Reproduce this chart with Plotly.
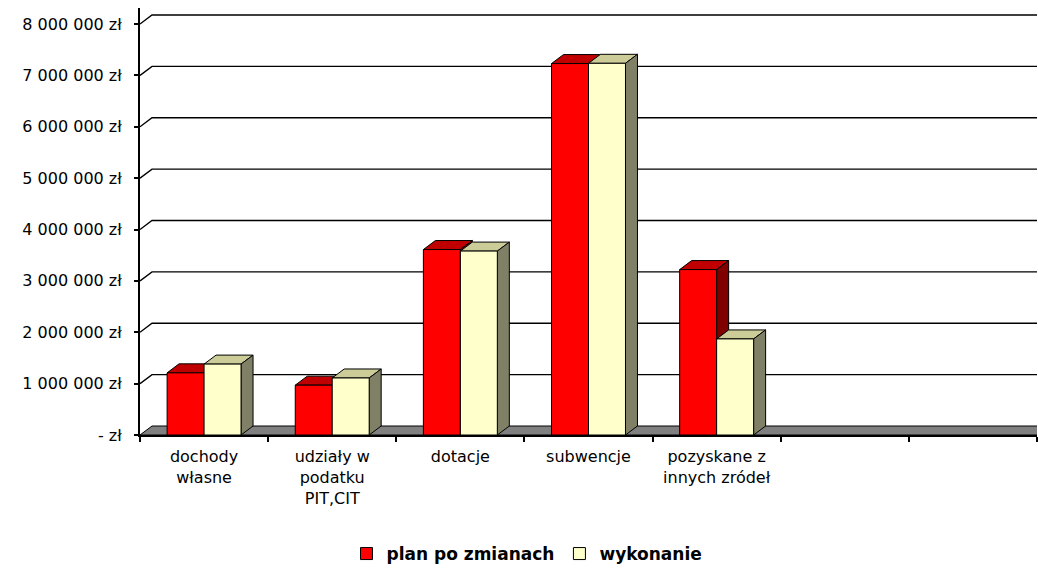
import plotly.graph_objects as go

# ---------------- data ----------------
categories = ["dochody<br>własne", "udziały w<br>podatku<br>PIT,CIT", "dotacje",
              "subwencje", "pozyskane z<br>innych zródeł", "", ""]
plan_po_zmianach = [1210000, 970000, 3610000, 7230000, 3220000]
wykonanie = [1380000, 1110000, 3580000, 7235000, 1870000]
y_ticks = [0, 1000000, 2000000, 3000000, 4000000, 5000000, 6000000, 7000000, 8000000]
y_tick_labels = ["- zł", "1 000 000 zł", "2 000 000 zł", "3 000 000 zł", "4 000 000 zł",
                 "5 000 000 zł", "6 000 000 zł", "7 000 000 zł", "8 000 000 zł"]
series_names = ["plan po zmianach", "wykonanie"]

# ---------------- styling / geometry ----------------
W, H = 1038, 572
ML, MR, MT, MB = 140, 1, 8, 137
BARGAP = 0.423
n_cat = len(categories)
x_range = [-0.5, n_cat - 0.5]
plot_w = W - ML - MR
plot_h = H - MT - MB
px_per_cat = plot_w / n_cat
px_per_val = 411.0 / 8000000          # front scale (0 -> 8 000 000)
y_max = plot_h / px_per_val
DEPTH_X_PX, DEPTH_Y_PX = 12, 9
dx = DEPTH_X_PX / px_per_cat
dy = DEPTH_Y_PX / px_per_val
bw = (1 - BARGAP) / 2

front_cols = ["#FF0000", "#FFFFCC"]
top_cols = ["#C00000", "#CCCC99"]
side_cols = ["#800000", "#808066"]

xs = list(range(len(plan_po_zmianach)))

fig = go.Figure()
for k, (name, vals) in enumerate(zip(series_names, [plan_po_zmianach, wykonanie])):
    fig.add_trace(go.Bar(
        x=xs, y=vals, name=name,
        marker=dict(color=front_cols[k], line=dict(color="black", width=1)),
        hoverinfo="skip",
    ))

shapes = []
# side-wall + back-wall gridlines
for v in y_ticks[1:]:
    shapes.append(dict(
        type="path", xref="x", yref="y", layer="below",
        path=f"M {x_range[0]},{v} L {x_range[0]+dx},{v+dy} L {x_range[1]+1},{v+dy}",
        line=dict(color="black", width=1.4),
    ))
# floor
shapes.append(dict(
    type="path", xref="x", yref="y", layer="below",
    path=f"M {x_range[0]},0 L {x_range[0]+dx},{dy} L {x_range[1]+1},{dy} L {x_range[1]+1},0 Z",
    fillcolor="#808080", line=dict(color="black", width=1),
))
# 3D tops and sides of the columns
for k, vals in enumerate([plan_po_zmianach, wykonanie]):
    for i, v in zip(xs, vals):
        x0 = i - bw + k * bw
        x1 = x0 + bw
        shapes.append(dict(
            type="path", xref="x", yref="y", layer="below",
            path=f"M {x0},{v} L {x1},{v} L {x1+dx},{v+dy} L {x0+dx},{v+dy} Z",
            fillcolor=top_cols[k], line=dict(color="black", width=1),
        ))
        shapes.append(dict(
            type="path", xref="x", yref="y", layer="below",
            path=f"M {x1},0 L {x1+dx},{dy} L {x1+dx},{v+dy} L {x1},{v} Z",
            fillcolor=side_cols[k], line=dict(color="black", width=1),
        ))

tick_font = dict(family="DejaVu Sans", size=16, color="black")

legend_y_px = 554
legend_cx_px = 527

fig.update_layout(
    width=W, height=H,
    margin=dict(l=ML, r=MR, t=MT, b=MB, autoexpand=False),
    paper_bgcolor="white", plot_bgcolor="white",
    barmode="group", bargap=BARGAP, bargroupgap=0,
    shapes=shapes,
    showlegend=True,
    hovermode=False,
    legend=dict(
        orientation="h", x=(legend_cx_px - ML) / plot_w, xanchor="center",
        y=-(legend_y_px - (H - MB)) / plot_h, yanchor="middle",
        font=dict(family="DejaVu Sans", size=17, color="black", weight="bold"),
        itemwidth=30, bgcolor="rgba(0,0,0,0)",
    ),
    xaxis=dict(
        range=x_range, tickmode="array", tickvals=list(range(n_cat)), ticktext=categories,
        ticks="", showgrid=False, zeroline=False,
        showline=True, linecolor="black", linewidth=2,
        tickfont=tick_font, ticklabelstandoff=6,
        minor=dict(tickmode="array", tickvals=[x_range[0] + j for j in range(n_cat + 1)],
                   ticks="outside", ticklen=5, tickwidth=1.5, tickcolor="black", showgrid=False),
    ),
    yaxis=dict(
        range=[0, y_max], tickmode="array", tickvals=y_ticks, ticktext=y_tick_labels,
        ticks="outside", ticklen=4, tickwidth=1.5, tickcolor="black",
        showgrid=False, zeroline=False,
        showline=True, linecolor="black", linewidth=2,
        tickfont=tick_font, ticklabelstandoff=9,
    ),
)

# remove the browser's default 8px page margin so the figure fills the window exactly
fig.write_html(
    "out.html",
    config={"displayModeBar": False},
    post_script="document.body.style.margin='0';document.body.style.overflow='hidden';",
)
